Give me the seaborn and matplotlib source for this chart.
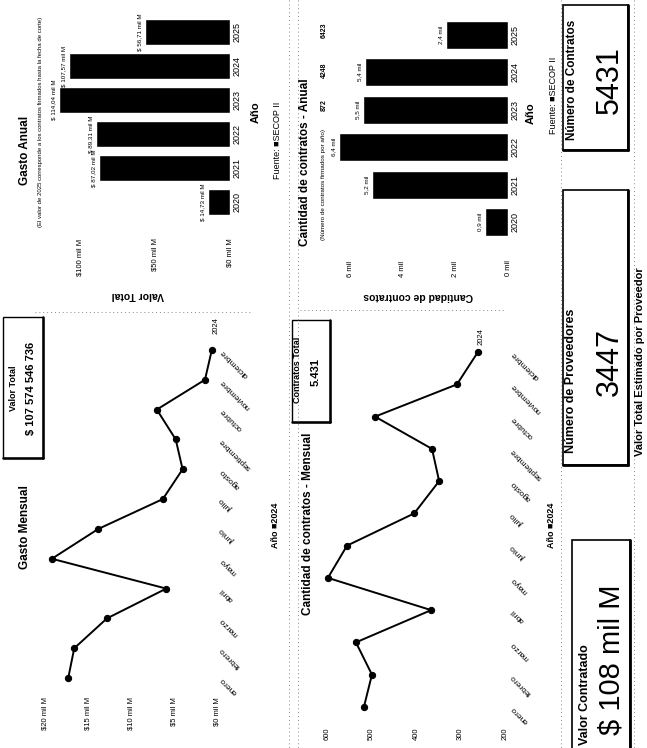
import matplotlib
matplotlib.use('Agg')
import matplotlib.pyplot as plt
from matplotlib.patches import Rectangle
from matplotlib.lines import Line2D
import seaborn as sns
import pandas as pd

sns.set_theme(style='white')
plt.rcParams['font.family'] = ['Liberation Sans', 'DejaVu Sans']
plt.rcParams['text.color'] = 'black'
plt.rcParams['xtick.color'] = 'black'
plt.rcParams['ytick.color'] = 'black'

# ---------------- data ----------------
years = ['2020', '2021', '2022', '2023', '2024', '2025']
gasto_anual = [14.73, 87.02, 89.31, 114.04, 107.57, 56.71]          # mil M
contratos_anual = [872, 5190, 6423, 5520, 5431, 2360]

meses = ['enero', 'febrero', 'marzo', 'abril', 'mayo', 'junio', 'julio',
         'agosto', 'septiembre', 'octubre', 'noviembre', 'diciembre']
gasto_mensual = [17.3, 16.6, 12.8, 5.9, 19.2, 13.8, 6.3, 4.0, 4.8, 7.0, 1.4, 0.6]   # mil M
contratos_mensual = [517, 499, 535, 366, 598, 555, 404, 348, 364, 492, 308, 261]

ga_ticks = [0, 50, 100]
ga_ticklabels = ['$0 mil M', '$50 mil M', '$100 mil M']
gm_ticks = [0, 5, 10, 15, 20]
gm_ticklabels = ['$0 mil M', '$5 mil M', '$10 mil M', '$15 mil M', '$20 mil M']
ca_ticks = [0, 2000, 4000, 6000]
ca_ticklabels = ['0 mil', '2 mil', '4 mil', '6 mil']
cm_ticks = [200, 300, 400, 500, 600]
cm_ticklabels = ['200', '300', '400', '500', '600']

resumen_contratos = ['872', '4248', '6423']
valor_total_txt = '$ 107 574 546 736'
contratos_total_txt = '5.431'
valor_contratado_txt = '$ 108 mil M'
num_proveedores_txt = '3447'
num_contratos_txt = '5431'

# ---------------- layout helpers ----------------
W, H = 647, 748
fig = plt.figure(figsize=(W / 100, H / 100), dpi=100)
fig.patch.set_facecolor('white')


def rect(x0, y0, x1, y1):
    return [x0 / W, 1 - y1 / H, (x1 - x0) / W, (y1 - y0) / H]


def ftext(x, y, s, **kw):
    kw.setdefault('ha', 'center')
    kw.setdefault('va', 'center')
    kw.setdefault('rotation', 90)
    fig.text(x / W, 1 - y / H, s, **kw)


def fbox(x0, y0, x1, y1, lw=1.0):
    fig.patches.append(Rectangle((x0 / W, 1 - y1 / H), (x1 - x0) / W, (y1 - y0) / H,
                                 transform=fig.transFigure, fill=False,
                                 edgecolor='black', lw=lw))
    # heavier "shadow" sides
    fig.lines.append(Line2D([x1 / W, x1 / W], [1 - y0 / H, 1 - y1 / H],
                            transform=fig.transFigure, color='black', lw=lw + 0.8))
    fig.lines.append(Line2D([x0 / W, x1 / W], [1 - y1 / H, 1 - y1 / H],
                            transform=fig.transFigure, color='black', lw=lw + 0.8))


def fdots(x0, y0, x1, y1):
    fig.lines.append(Line2D([x0 / W, x1 / W], [1 - y0 / H, 1 - y1 / H],
                            transform=fig.transFigure, color='#8a8a8a', lw=0.7, ls=(0, (1, 3))))


def clean(ax):
    for s in ax.spines.values():
        s.set_visible(False)
    ax.grid(False)
    ax.set_facecolor('white')
    ax.set_xlabel('')
    ax.set_ylabel('')
    ax.tick_params(length=0)


def bar_panel(ax, vals, xmax, ticks, ticklabels, fmt, bw, xpad):
    df = pd.DataFrame({'Año': years, 'v': vals})
    order = years[::-1]
    sns.barplot(data=df, x='v', y='Año', order=order, orient='h', color='black',
                saturation=1, width=bw, ax=ax)
    ax.set_xlim(xmax, 0)
    clean(ax)
    ax.set_xticks(ticks)
    ax.set_xticklabels(ticklabels, rotation=90, fontsize=5.5)
    ax.yaxis.tick_right()
    for lbl in ax.get_yticklabels():
        lbl.set_rotation(90)
        lbl.set_fontsize(6.5)
        lbl.set_va('center')
    ax.tick_params(axis='y', pad=2)
    ax.tick_params(axis='x', pad=xpad)
    for yr, v in zip(years, vals):
        ax.annotate(fmt(v), xy=(v, order.index(yr)), xytext=(-2, 0),
                    textcoords='offset points', rotation=90, ha='right',
                    va='center', fontsize=4.5)


def line_panel(ax, vals, xlim, ticks, ticklabels):
    df = pd.DataFrame({'mes': list(range(12)), 'v': vals})
    sns.lineplot(data=df, x='v', y='mes', orient='y', marker='o', color='black',
                 lw=1.4, markersize=4.5, markeredgecolor='black', ax=ax)
    ax.set_xlim(*xlim)
    ax.set_ylim(-0.5, 11.5)
    clean(ax)
    ax.set_xticks(ticks)
    ax.set_xticklabels(ticklabels, rotation=90, fontsize=5.5)
    ax.set_yticks(list(range(12)))
    ax.set_yticklabels(meses)
    ax.yaxis.tick_right()
    for lbl in ax.get_yticklabels():
        lbl.set_rotation(135)
        lbl.set_rotation_mode('anchor')
        lbl.set_ha('right')
        lbl.set_va('center')
        lbl.set_fontsize(6)
    ax.tick_params(axis='y', pad=3)
    ax.tick_params(axis='x', pad=3)


# ---------------- Row 1: Gasto ----------------
ax_ga = fig.add_axes(rect(50, 15, 230, 219))
bar_panel(ax_ga, gasto_anual, 120, ga_ticks, ga_ticklabels,
          lambda v: ('$ %.2f mil M' % v).replace('.', ','), 0.76, 14)

ax_gm = fig.add_axes(rect(40, 335, 217, 693))
line_panel(ax_gm, gasto_mensual, ((217 - 40) / 8.6, 0), gm_ticks, gm_ticklabels)

ftext(25, 150, 'Gasto Anual', fontsize=8.5, weight='bold')
ftext(41, 122, '(El valor de 2025 corresponde a los contratos firmados hasta la fecha de corte)',
      fontsize=4.3)
ftext(138, 295, 'Valor Total', rotation=180, fontsize=7.5, weight='bold')
ftext(256, 112, 'Año', fontsize=8, weight='bold')
ftext(277, 140, 'Fuente: ■SECOP II', fontsize=6.5)

fbox(3, 317, 43, 458)
ftext(14, 388, 'Valor Total', fontsize=6.5, weight='bold')
ftext(31, 388, valor_total_txt, fontsize=8, weight='bold')
ftext(25, 527, 'Gasto Mensual', fontsize=8.5, weight='bold')
ftext(216, 326, '2024', fontsize=5.5)
ftext(275, 525, 'Año ■2024', fontsize=6.5, weight='bold')

# ---------------- Row 2: Cantidad de contratos ----------------
ax_ca = fig.add_axes(rect(335, 16, 508, 241))
bar_panel(ax_ca, contratos_anual, (508 - 335) / 26.25 * 1000, ca_ticks, ca_ticklabels,
          lambda v: ('%.1f mil' % (v / 1000)).replace('.', ','), 0.74, 14)

ax_cm = fig.add_axes(rect(320, 336, 508, 723))
line_panel(ax_cm, contratos_mensual, (200 + (505 - 320) / 0.445, 200 + (505 - 508) / 0.445),
           cm_ticks, cm_ticklabels)

ftext(305, 162, 'Cantidad de contratos - Anual', fontsize=8.5, weight='bold')
ftext(323, 185, '(Número de contratos firmados por año)', fontsize=4.5)
for yy, s in zip([105, 70, 30], resumen_contratos):
    ftext(324, yy, s, fontsize=5, weight='bold')
ftext(418, 296, 'Cantidad de contratos', rotation=180, fontsize=7.5, weight='bold')
ftext(531, 113, 'Año', fontsize=8, weight='bold')
ftext(553, 95, 'Fuente: ■SECOP II', fontsize=6.5)

fbox(292, 320, 330, 422)
ftext(298, 370, 'Contratos Total', fontsize=6.5, weight='bold')
ftext(316, 372, contratos_total_txt, fontsize=8, weight='bold')
ftext(308, 524, 'Cantidad de contratos - Mensual', fontsize=8.5, weight='bold')
ftext(481, 337, '2024', fontsize=5.5)
ftext(552, 525, 'Año ■2024', fontsize=6.5, weight='bold')

# ---------------- Row 3: KPI cards ----------------
fbox(572, 540, 630, 752, lw=1.2)
ftext(585, 745, 'Valor Contratado', fontsize=9, weight='bold', ha='left',
      rotation_mode='anchor')
ftext(611, 660, valor_contratado_txt, fontsize=21)

fbox(563, 190, 628, 465, lw=1.2)
ftext(571, 453, 'Número de Proveedores', fontsize=9, weight='bold', ha='left',
      rotation_mode='anchor')
ftext(610, 362, num_proveedores_txt, fontsize=22)

fbox(563, 5, 628, 150, lw=1.2)
ftext(572, 140, 'Número de Contratos', fontsize=8.5, weight='bold', ha='left',
      rotation_mode='anchor')
ftext(610, 80, num_contratos_txt, fontsize=22)

# ---------------- Row 4 (title of next visual) ----------------
ftext(640, 362, 'Valor Total Estimado por Proveedor', fontsize=8, weight='bold')

# ---------------- dotted visual borders ----------------
fdots(289, 0, 289, 748)
fdots(298, 0, 298, 748)
fdots(561, 0, 561, 748)
fdots(634, 0, 634, 748)
fdots(35, 312, 250, 312)
fdots(300, 310, 505, 310)

fig.savefig('out.png', dpi=100, facecolor='white')
